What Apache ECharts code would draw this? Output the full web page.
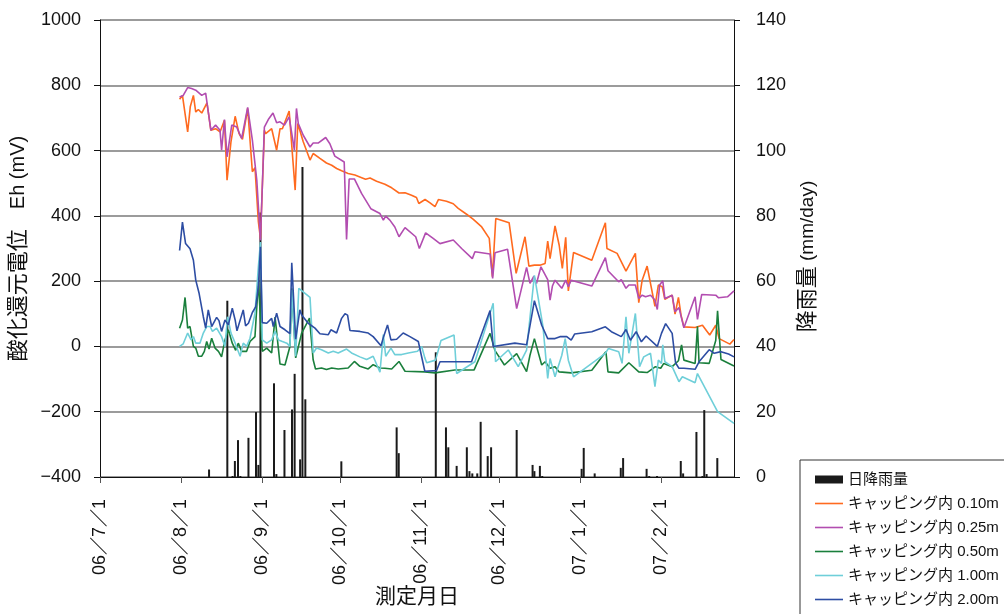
<!DOCTYPE html>
<html>
<head>
<meta charset="utf-8">
<script src="https://cdn.jsdelivr.net/npm/echarts@6/dist/echarts.min.js"></script>
<style>
  html, body { margin: 0; padding: 0; background: #fff; }
  #chart { width: 1004px; height: 614px; }
</style>
</head>
<body>
<div id="chart"></div>
<script>
// x values are days counted from 2006/7/1
const TICK_DAYS = [0, 31, 62, 92, 123, 153, 184, 215];
const TICK_LABELS = ["06／7／1", "06／8／1", "06／9／1", "06／10／1", "06／11／1", "06／12／1", "07／1／1", "07／2／1"];
const LAST_DAY = 243;

const NAMES = ["日降雨量", "キャッピング内 0.10m", "キャッピング内 0.25m", "キャッピング内 0.50m", "キャッピング内 1.00m", "キャッピング内 2.00m"];

const rain = [
    [41.8, 2.3], [48.8, 54], [50.8, 0.3], [51.7, 4.9], [52.9, 11.3], [53.8, 0.3], [56.9, 12.0],
    [59.8, 19.9], [60.7, 3.7], [61.5, 81], [66.7, 28.7], [67.6, 0.9], [70.7, 14.4], [73.6, 20.7],
    [74.6, 31.6], [76.7, 5.4], [77.6, 95], [78.7, 23.8], [92.5, 4.8], [113.7, 15.2], [114.5, 7.3],
    [128.7, 38.2], [132.6, 15.2], [133.5, 9.1], [136.7, 3.4], [140.6, 9.1], [141.6, 1.8], [142.7, 1.1],
    [144.6, 1.1], [145.9, 16.9], [148.6, 6.4], [149.9, 9.1], [159.7, 14.4], [165.8, 3.7], [166.5, 1.8],
    [168.6, 3.4], [169.5, 0.3], [184.6, 2.5], [185.4, 8.9], [189.6, 1.1], [199.6, 2.8], [200.5, 5.8],
    [209.5, 2.5], [210.5, 0.3], [213.5, 0.3], [222.6, 4.9], [223.5, 1.1], [228.6, 13.8], [230.9, 0.3],
    [231.6, 20.5], [232.5, 0.9], [236.6, 5.8],
];

const eh010 = [
    [30.5, 757], [31.6, 769], [33.6, 657], [34.6, 734], [35.8, 769], [36.7, 718], [37.7, 726], [39.0, 715],
    [41.0, 746], [42.5, 662], [44.3, 667], [46.0, 657], [47.7, 693], [48.7, 509], [50.2, 627], [51.8, 705],
    [53.3, 652], [54.6, 634], [56.6, 729], [58.4, 535], [59.4, 548], [60.7, 382], [61.5, 330], [63.0, 662],
    [63.5, 652], [65.8, 667], [67.7, 601], [69.0, 667], [69.9, 667], [72.5, 721], [74.8, 479], [75.8, 683],
    [77.9, 627], [80.5, 571], [81.7, 591], [84.3, 576], [86.8, 562], [88.8, 555], [90.7, 545], [92.6, 538],
    [95.1, 530], [97.7, 525], [100.3, 517], [101.8, 512], [103.5, 516], [106.0, 506], [109.2, 497], [111.8, 486],
    [114.6, 470], [116.9, 471], [119.4, 463], [121.3, 456], [122.2, 438], [124.6, 450], [126.5, 440], [128.4, 428],
    [129.7, 450], [132.8, 445], [135.4, 437], [137.3, 423], [140.5, 405], [143.1, 389], [146.3, 366], [149.2, 331],
    [150.4, 214], [151.7, 392], [156.8, 379], [159.5, 224], [162.9, 336], [164.4, 246], [166.5, 249], [168.6, 249],
    [170.6, 254], [171.6, 323], [172.5, 269], [173.1, 274], [174.4, 369], [176.0, 310], [177.2, 239], [178.5, 334],
    [179.5, 170], [181.5, 288], [188.5, 264], [193.7, 379], [194.3, 300], [198.2, 285], [201.6, 231], [205.2, 285],
    [206.5, 134], [207.8, 203], [209.7, 246], [212.7, 123], [214.0, 188], [215.5, 183], [216.5, 144], [219.3, 157],
    [220.4, 99], [221.7, 150], [222.7, 96], [223.8, 60], [228.1, 58], [230.9, 65], [233.7, 35], [236.0, 65],
    [237.3, 24], [241.4, 7], [243.0, 21],
];

const eh025 = [
    [30.5, 764], [31.9, 769], [33.6, 793], [35.1, 790], [36.7, 785], [39.0, 769], [40.5, 776], [42.5, 662],
    [44.3, 678], [46.0, 662], [46.6, 601], [47.7, 695], [48.7, 581], [50.5, 678], [52.4, 672], [54.3, 637],
    [56.6, 732], [58.4, 632], [60.1, 509], [61.5, 325], [63.0, 672], [64.5, 695], [66.3, 715], [67.7, 685],
    [69.0, 688], [70.7, 678], [72.5, 703], [74.5, 601], [75.3, 729], [76.0, 683], [77.9, 647], [80.5, 611],
    [81.7, 623], [83.6, 623], [86.5, 640], [88.1, 621], [90.0, 583], [93.6, 565], [94.5, 328], [95.5, 513],
    [97.5, 513], [100.3, 468], [103.8, 422], [107.3, 407], [108.6, 387], [109.5, 399], [111.1, 387], [113.0, 366],
    [114.6, 336], [116.9, 364], [121.0, 336], [122.4, 300], [124.8, 348], [127.7, 331], [130.3, 315], [135.4, 326],
    [138.6, 300], [142.7, 269], [143.7, 290], [149.5, 283], [150.5, 208], [151.4, 287], [156.2, 298], [159.7, 116],
    [163.5, 242], [164.8, 193], [166.3, 215], [167.3, 193], [169.0, 244], [171.6, 205], [172.5, 142], [173.4, 185],
    [174.4, 203], [177.0, 178], [178.5, 203], [179.5, 183], [180.6, 203], [188.5, 185], [193.7, 272], [194.7, 232],
    [198.8, 198], [199.8, 205], [201.6, 178], [202.7, 188], [205.2, 188], [206.5, 147], [207.8, 157], [209.1, 152],
    [211.0, 157], [212.7, 142], [213.6, 113], [214.5, 188], [215.7, 201], [216.5, 147], [219.3, 157], [220.4, 106],
    [221.9, 119], [223.8, 57], [228.1, 152], [229.0, 83], [230.6, 159], [236.0, 157], [237.1, 149], [240.5, 152],
    [243.0, 170],
];

const eh050 = [
    [30.5, 56], [31.6, 81], [32.6, 150], [33.6, 56], [34.5, 61], [35.8, 0], [36.7, -5], [37.7, -30],
    [39.0, -30], [40.0, -15], [40.9, 15], [41.8, -8], [42.8, 25], [44.1, -5], [45.4, -15], [46.6, -32],
    [47.9, 20], [49.2, 51], [50.7, 10], [52.0, -12], [53.0, 10], [54.3, -15], [56.2, -15], [57.5, 15],
    [59.4, 30], [60.7, 200], [62.2, -15], [63.9, -5], [65.8, -20], [67.1, 90], [69.0, -54], [70.9, -57],
    [72.8, 0], [73.5, 178], [75.0, -35], [77.3, 41], [80.3, 87], [81.7, -41], [82.6, -69], [84.9, -66],
    [86.8, -71], [88.8, -66], [91.3, -69], [95.1, -66], [97.5, -46], [99.6, -61], [102.8, -69], [104.7, -56],
    [107.3, -66], [109.2, -67], [111.8, -69], [114.6, -46], [116.9, -76], [124.5, -78], [128.4, -81], [136.0, -72],
    [143.4, -72], [149.5, 40], [151.4, -13], [155.0, -57], [159.7, -22], [163.5, -77], [164.8, -27], [166.5, 24],
    [169.3, -57], [170.6, -47], [172.5, -67], [174.4, -62], [176.0, -78], [180.6, -81], [188.5, -73], [193.9, -16],
    [194.7, -78], [198.8, -81], [202.7, -50], [206.5, -78], [209.7, -80], [212.9, -62], [214.9, -67], [216.1, -52],
    [219.3, -62], [221.7, -44], [222.9, 5], [223.8, -42], [228.1, -52], [229.0, 62], [229.6, -50], [233.5, -52],
    [236.0, 18], [236.7, 109], [238.0, -40], [243.0, -60],
];

const eh100 = [
    [30.5, 0], [31.9, 8], [33.6, 41], [34.9, 20], [35.8, 30], [36.7, 10], [38.3, 10], [39.6, 41],
    [40.9, 61], [42.2, 61], [43.1, 46], [44.7, 56], [46.6, 30], [47.9, 0], [48.9, 91], [50.2, 41],
    [51.8, 10], [53.7, -30], [54.9, 10], [56.2, 0], [57.5, 25], [59.4, 102], [60.7, 244], [61.5, 320],
    [62.2, 20], [63.9, 10], [65.8, 20], [67.1, 46], [68.4, 20], [69.9, 15], [71.6, 10], [72.8, 0],
    [73.5, 173], [75.0, -30], [76.2, 178], [80.5, 150], [81.7, -20], [83.0, -5], [84.9, -10], [87.5, -20],
    [89.4, -15], [91.3, -20], [94.5, -8], [96.4, -20], [99.6, -32], [102.2, -40], [104.7, -30], [107.3, -79],
    [108.6, 36], [109.5, -30], [111.5, -5], [113.0, -25], [115.6, -25], [118.2, -20], [121.7, -15], [123.3, 0],
    [124.5, -35], [125.2, -50], [128.6, -42], [130.7, 18], [135.7, 35], [136.7, -83], [143.7, -47], [150.7, 132],
    [151.6, -47], [156.5, -11], [160.3, -62], [163.5, -11], [166.5, 218], [169.8, 60], [171.6, -98], [172.5, -37],
    [174.4, -93], [177.0, -27], [178.3, 24], [179.5, -42], [181.5, -93], [193.7, -21], [194.9, -6], [198.8, -16],
    [200.1, -52], [201.6, 91], [202.7, -21], [205.2, 101], [206.8, -62], [208.4, -32], [211.0, -21], [212.7, -123],
    [214.0, -42], [215.2, -52], [215.7, 5], [216.5, -47], [219.3, -62], [221.9, -108], [223.2, -93], [228.1, -111],
    [229.0, -83], [236.7, -200], [243.0, -236],
];

const eh200 = [
    [30.5, 294], [31.6, 381], [32.8, 315], [34.5, 299], [35.8, 264], [36.7, 203], [38.0, 162], [39.6, 91],
    [40.5, 56], [41.5, 112], [42.8, 61], [44.7, 89], [45.6, 79], [46.6, 46], [47.9, 81], [49.2, 66],
    [50.7, 117], [51.8, 81], [52.5, 48], [54.9, 112], [55.8, 63], [56.9, 71], [58.4, 104], [59.7, 122],
    [60.7, 183], [61.5, 305], [62.2, 73], [63.9, 71], [65.8, 86], [66.4, 61], [67.7, 102], [69.0, 61],
    [70.9, 51], [72.8, 39], [73.5, 256], [75.0, 22], [76.6, 112], [77.3, 96], [79.8, 71], [82.4, 56],
    [84.3, 39], [87.5, 36], [88.5, 51], [90.7, 41], [92.6, 86], [93.9, 100], [94.9, 96], [95.8, 49],
    [99.6, 46], [102.8, 41], [104.7, 30], [107.7, 2], [108.7, 30], [110.2, 66], [111.5, 20], [113.7, 22],
    [116.2, 41], [118.8, 30], [122.0, 15], [124.5, -76], [129.0, -74], [130.3, -47], [142.4, -47], [149.5, 110],
    [150.7, 0], [159.0, 10], [163.5, 5], [166.5, 140], [169.3, 65], [171.6, 24], [174.4, 24], [176.3, 30],
    [178.9, 30], [180.6, 19], [181.9, 38], [188.5, 45], [193.7, 60], [196.0, 45], [199.8, 30], [201.6, 52],
    [203.3, 19], [205.5, 45], [207.5, 14], [209.3, 32], [213.6, 0], [215.2, 40], [216.8, 70], [219.3, 40],
    [220.6, -50], [221.9, -67], [223.8, -67], [228.1, -70], [229.6, -47], [233.5, -10], [235.4, -21], [238.0, -16],
    [240.9, -23], [243.0, -32],
];

const COLORS = ["#1a1a1a", "#ff6a1f", "#b24db0", "#1a7f3c", "#6fcfd9", "#2d4da3"];
const FONT = "'Liberation Sans', 'Noto Sans CJK JP', sans-serif";
const LINE_ICON = "path://M0,0M28,8M0,3.2H28V4.8H0Z";

const chart = echarts.init(document.getElementById("chart"));

const plainNum = (v) => String(v).replace("-", "\u2212");

function lineSeries(i, data) {
    return {
        name: NAMES[i],
        type: "line",
        yAxisIndex: 0,
        data,
        symbol: "none",
        color: COLORS[i],
        lineStyle: { width: 1.6, color: COLORS[i] },
    };
}

chart.setOption({
    animation: false,
    backgroundColor: "#fff",
    textStyle: { fontFamily: FONT, color: "#111" },
    grid: { left: 100, right: 270, top: 20, bottom: 137, outerBoundsMode: "none", containLabel: false },
    legend: {
        orient: "vertical",
        left: 800,
        top: 460,
        width: 230,
        height: 200,
        padding: [12, 30, 12, 15],
        itemWidth: 28,
        itemHeight: 8,
        itemGap: 9,
        borderColor: "#333",
        borderWidth: 1,
        textStyle: { fontSize: 15, color: "#111", fontFamily: FONT },
        data: NAMES.map((n, i) => ({ name: n, icon: i === 0 ? "rect" : LINE_ICON })),
    },
    xAxis: {
        type: "value",
        min: 0,
        max: LAST_DAY,
        name: "測定月日",
        nameLocation: "middle",
        nameGap: 110,
        nameMoveOverlap: false,
        nameTextStyle: { fontSize: 21, color: "#111", fontFamily: FONT },
        axisLine: { onZero: false, lineStyle: { color: "#111", width: 1 } },
        axisTick: { show: true, customValues: TICK_DAYS, length: 6, lineStyle: { color: "#555" } },
        axisLabel: {
            customValues: TICK_DAYS,
            rotate: 90,
            margin: 22,
            fontSize: 18,
            color: "#111",
            fontFamily: FONT,
            formatter: (v) => TICK_LABELS[TICK_DAYS.indexOf(v)] || "",
        },
        splitLine: { show: false },
    },
    yAxis: [
        {
            type: "value",
            min: -400,
            max: 1000,
            interval: 200,
            name: "{j|酸化還元電位}{l|　Eh (mV)}",
            nameLocation: "middle",
            nameRotate: 90,
            nameGap: 66,
            nameTextStyle: {
                rich: {
                    j: { fontSize: 22, fontFamily: FONT, color: "#111" },
                    l: { fontSize: 20, fontFamily: FONT, color: "#111" },
                },
            },
            axisLine: { show: true, lineStyle: { color: "#111", width: 1 } },
            axisTick: { show: true, length: 6, lineStyle: { color: "#111" } },
            axisLabel: { fontSize: 18, margin: 19, color: "#111", fontFamily: FONT, formatter: plainNum },
            splitLine: { show: true, lineStyle: { color: "#7a7a7a", width: 1.5 } },
        },
        {
            type: "value",
            min: 0,
            max: 140,
            interval: 20,
            name: "{j|降雨量}{l| (mm/day)}",
            nameLocation: "middle",
            nameRotate: 90,
            nameGap: 56,
            nameTextStyle: {
                padding: [0, 16, 0, 0],
                rich: {
                    j: { fontSize: 22, fontFamily: FONT, color: "#111" },
                    l: { fontSize: 19, fontFamily: FONT, color: "#111" },
                },
            },
            axisLine: { show: true, lineStyle: { color: "#111", width: 1 } },
            axisTick: { show: true, length: 6, lineStyle: { color: "#111" } },
            axisLabel: { fontSize: 18, margin: 22, color: "#111", fontFamily: FONT, formatter: plainNum },
            splitLine: { show: false },
        },
    ],
    series: [
        lineSeries(1, eh010),
        lineSeries(2, eh025),
        lineSeries(3, eh050),
        lineSeries(4, eh100),
        lineSeries(5, eh200),
        {
            name: NAMES[0],
            type: "bar",
            yAxisIndex: 1,
            data: rain,
            barWidth: 2,
            color: COLORS[0],
            itemStyle: { color: COLORS[0] },
        },
    ],
});
</script>
</body>
</html>
